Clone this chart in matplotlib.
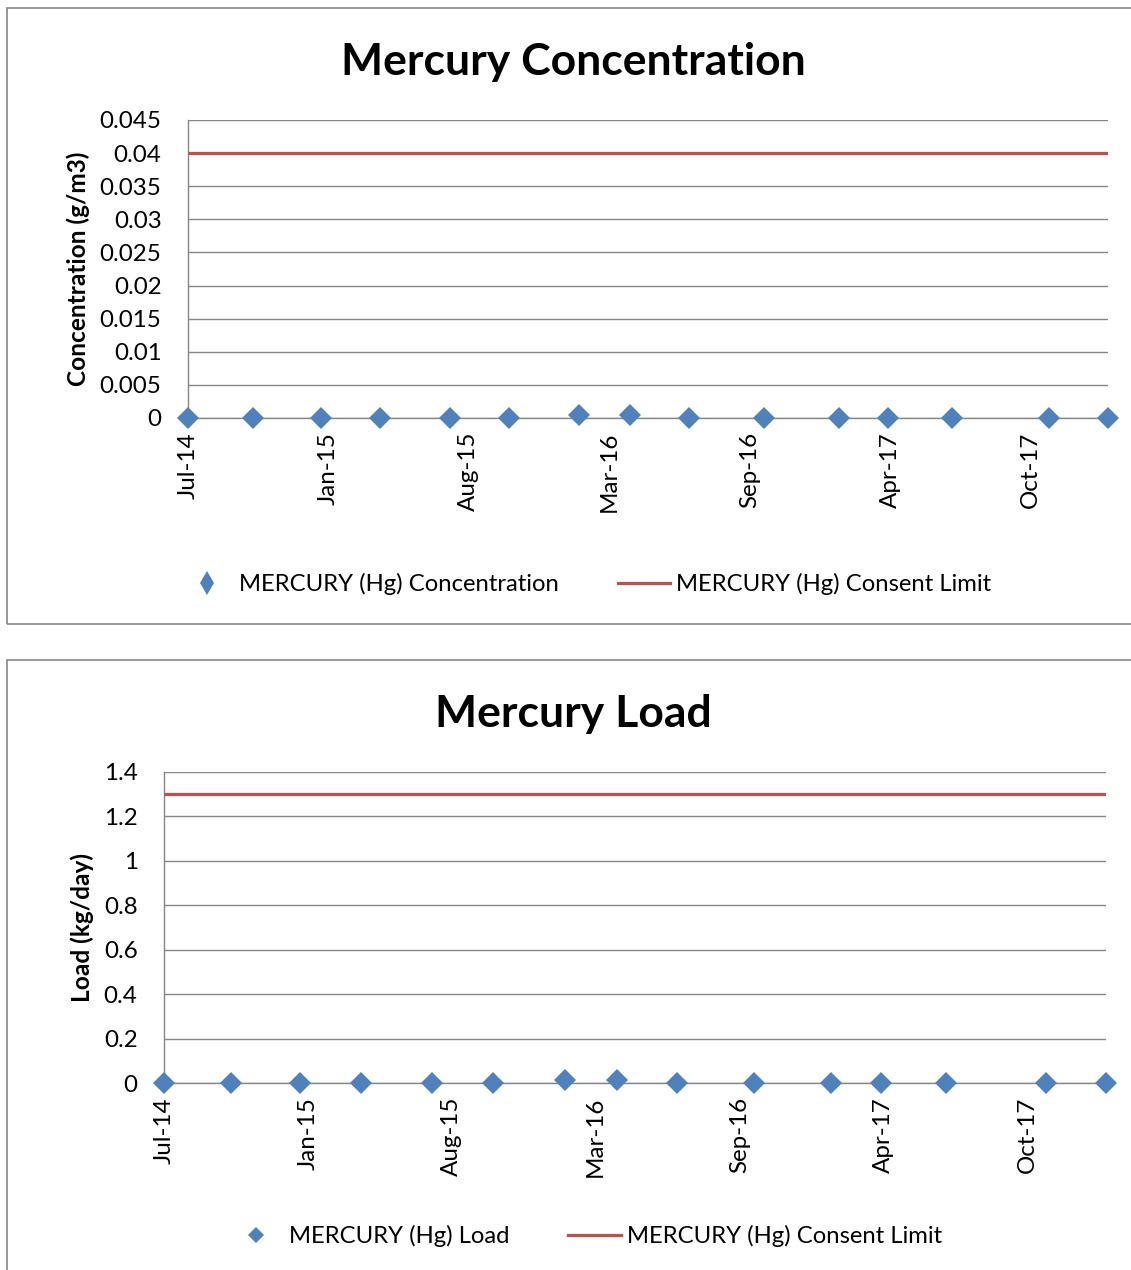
import numpy as np
import matplotlib.pyplot as plt
from matplotlib.patches import Rectangle
from matplotlib.lines import Line2D
import matplotlib.dates as mdates

plt.rcParams['font.family'] = ['Lato', 'DejaVu Sans']

sample_dates = np.array(['2014-07-15', '2014-10-16', '2015-01-20', '2015-04-15',
                         '2015-07-23', '2015-10-15', '2016-01-23', '2016-04-05',
                         '2016-06-28', '2016-10-12', '2017-01-27', '2017-04-07',
                         '2017-07-07', '2017-11-22', '2018-02-14'], dtype='datetime64[D]')

hg_conc = [0, 0, 0, 0, 0, 0, 0.0004, 0.0004, 0, 0, 0, 0, 0, 0, 0]
hg_conc_limit = [0.04] * len(sample_dates)
hg_load = [0, 0, 0, 0, 0, 0, 0.012, 0.012, 0, 0, 0, 0, 0, 0, 0]
hg_load_limit = [1.3] * len(sample_dates)

conc_ticks = [0, 0.005, 0.01, 0.015, 0.02, 0.025, 0.03, 0.035, 0.04, 0.045]
conc_labels = ['0', '0.005', '0.01', '0.015', '0.02', '0.025', '0.03', '0.035', '0.04', '0.045']
load_ticks = [0, 0.2, 0.4, 0.6, 0.8, 1.0, 1.2, 1.4]
load_labels = ['0', '0.2', '0.4', '0.6', '0.8', '1', '1.2', '1.4']

blue = '#4F81BD'
red = '#C0504D'
grey = '#868686'

W, H = 1131, 1270
fig = plt.figure(figsize=(W / 100, H / 100), dpi=100)

# chart frames
fig.patches.append(Rectangle((7 / W, 1 - 624 / H), 1.2, 616 / H, transform=fig.transFigure,
                             fill=False, edgecolor=grey, lw=1.2))
fig.patches.append(Rectangle((7 / W, -0.2), 1.2, 0.2 + 1 - 660 / H, transform=fig.transFigure,
                             fill=False, edgecolor=grey, lw=1.2))

xticks = sample_dates[0] + np.arange(0, 1201, 200).astype('timedelta64[D]')


def draw_panel(rect, vals, limit, yticks, ylabels, ylabel, title, title_y,
               legend_labels, legend_marker, legend_ms, legend_y, ylab_x):
    ax = fig.add_axes(rect)
    ax.plot(sample_dates, limit, color=red, lw=2.3, solid_capstyle='butt', zorder=3)
    ax.plot(sample_dates, vals, ls='none', marker='D', ms=11.5, color=blue,
            markeredgewidth=0, clip_on=False, zorder=4)
    ax.set_xlim(sample_dates[0], sample_dates[-1])
    ax.set_ylim(yticks[0], yticks[-1])
    ax.set_yticks(yticks)
    ax.set_yticklabels(ylabels)
    ax.set_xticks(xticks)
    ax.xaxis.set_major_formatter(mdates.DateFormatter('%b-%y'))
    ax.tick_params(axis='y', length=0, pad=19, labelsize=17.4)
    ax.tick_params(axis='x', length=0, pad=10, labelsize=17.4, labelrotation=90)
    ax.grid(axis='y', color=grey, lw=1.0)
    ax.set_axisbelow(True)
    for s in ['top', 'right']:
        ax.spines[s].set_visible(False)
    for s in ['left', 'bottom']:
        ax.spines[s].set_color(grey)
        ax.spines[s].set_linewidth(1.0)
    ax.set_ylabel(ylabel, fontsize=17.6, fontweight='bold')
    ax.yaxis.set_label_coords(ylab_x, 0.5)
    fig.text(573.5 / W, title_y, title, ha='center', va='baseline',
             fontsize=32, fontweight='bold')
    handles = [Line2D([], [], ls='none', marker=legend_marker, ms=legend_ms, color=blue,
                      markeredgewidth=0),
               Line2D([], [], color=red, lw=2.3)]
    fig.legend(handles, legend_labels, loc='center', bbox_to_anchor=(586 / W, legend_y),
               ncol=2, frameon=False, fontsize=17.2, handlelength=2.2,
               handletextpad=0.25, columnspacing=2.47)
    return ax


draw_panel([188 / W, 1 - 418 / H, 920 / W, 298 / H], hg_conc, hg_conc_limit,
           conc_ticks, conc_labels, 'Concentration (g/m3)', 'Mercury Concentration',
           1 - 75 / H,
           ['MERCURY (Hg) Concentration', 'MERCURY (Hg) Consent Limit'],
           'd', 12, 1 - 584 / H, -0.1065)

draw_panel([164 / W, 1 - 1083 / H, 942 / W, 311 / H], hg_load, hg_load_limit,
           load_ticks, load_labels, 'Load (kg/day)', 'Mercury Load',
           1 - 727 / H,
           ['MERCURY (Hg) Load', 'MERCURY (Hg) Consent Limit'],
           'D', 8.5, 1 - 1236 / H, -0.0743)

fig.savefig('out.png', dpi=100)
